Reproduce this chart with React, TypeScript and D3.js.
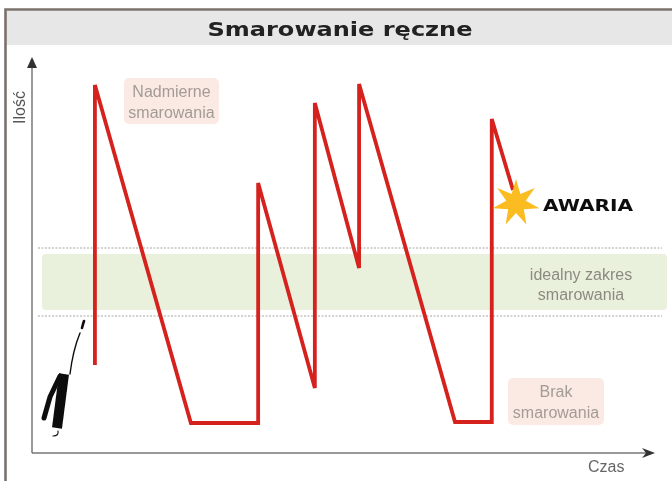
import * as d3 from 'd3';

const W = 672;
const H = 481;

// time and amount both as 0-100
const times = [10.1, 10.1, 25.5, 36.3, 36.3, 45.4, 45.4, 52.5, 52.5, 67.9, 73.8, 73.8, 77.2];
const levels = [22, 92, 7.5, 7.5, 67.5, 16.25, 87.5, 46.25, 92.25, 7.75, 7.75, 83.5, 65.75];
const idealBand = [35.75, 49.75];
const idealLimits = [34.25, 51.25];
const starRadii = [24, 10];

const x = d3.scaleLinear().domain([0, 100]).range([32, 655]);
const y = d3.scaleLinear().domain([0, 100]).range([453, 53]);

const line = d3
  .line<number>()
  .x((t) => x(t))
  .y((_, i) => y(levels[i]));

const star = d3
  .lineRadial<number>()
  .angle((_, i) => (i * Math.PI) / 7)
  .radius((r) => r)
  .curve(d3.curveLinearClosed);
const starPoints = d3.range(14).map((i) => starRadii[i % 2]);

const labelFont = "'Liberation Sans', sans-serif";

function Note({ left, top, w, h, lines }: { left: number; top: number; w: number; h: number; lines: string[] }) {
  return (
    <g>
      <rect x={left} y={top} width={w} height={h} rx={5} fill="#fbeae3" />
      {lines.map((t, i) => (
        <text
          key={t}
          x={left + w / 2}
          y={top + 19 + i * 21}
          textAnchor="middle"
          fontFamily={labelFont}
          fontSize={16}
          fill="#a39b96"
        >
          {t}
        </text>
      ))}
    </g>
  );
}

export default function App() {
  return (
    <svg width={W} height={H} viewBox={`0 0 ${W} ${H}`} style={{ position: 'absolute', left: 0, top: 0 }}>
      <defs>
        <filter id="soft" x="-5%" y="-5%" width="110%" height="110%">
          <feGaussianBlur stdDeviation="0.55" />
        </filter>
      </defs>
      <rect width={W} height={H} fill="#fff" />
      <g filter="url(#soft)">
        {/* frame and header */}
        <rect x={6} y={11} width={W - 6} height={34} fill="#e8e7e8" />
        <path d="M5.5,481V9.5H672" fill="none" stroke="#7b716b" strokeWidth={2.6} />
        <text
          x={340}
          y={36}
          textAnchor="middle"
          fontFamily="'DejaVu Sans', sans-serif"
          fontWeight="bold"
          fontSize={19}
          fill="#222"
          textLength={265}
          lengthAdjust="spacingAndGlyphs"
        >
          Smarowanie ręczne
        </text>

        {/* ideal range */}
        <rect
          x={42}
          y={y(idealBand[1])}
          width={625}
          height={y(idealBand[0]) - y(idealBand[1])}
          rx={4}
          fill="#e9f0dc"
        />
        {idealLimits.map((v) => (
          <line key={v} x1={38} x2={662} y1={y(v)} y2={y(v)} stroke="#c4c4c2" strokeWidth={1.4} strokeDasharray="2 1.5" />
        ))}

        {/* axes */}
        <line x1={x(0)} x2={x(0)} y1={y(0)} y2={62} stroke="#9a9a9a" strokeWidth={2} />
        <path d="M32,57l-5,11h10z" fill="#333" />
        <line x1={x(0)} x2={648} y1={y(0)} y2={y(0)} stroke="#777" strokeWidth={1.6} />
        <path d="M655,453l-13,-5l4,5l-4,5z" fill="#333" />
        <text transform="translate(25,124) rotate(-90)" fontFamily={labelFont} fontSize={16} fill="#555">
          Ilość
        </text>
        <text x={588} y={472} fontFamily={labelFont} fontSize={16} fill="#666">
          Czas
        </text>

        <Note left={124} top={78} w={95} h={46} lines={['Nadmierne', 'smarowania']} />
        <Note left={508} top={378} w={96} h={47} lines={['Brak', 'smarowania']} />
        <text textAnchor="middle" fontFamily={labelFont} fontSize={16} fill="#8d8a80">
          <tspan x={581} y={280}>idealny zakres</tspan>
          <tspan x={581} y={300}>smarowania</tspan>
        </text>

        {/* level over time */}
        <path d={line(times) ?? ''} fill="none" stroke="#d5201f" strokeWidth={3.8} strokeLinejoin="miter" />

        {/* failure */}
        <path d={star(starPoints) ?? ''} transform="translate(516,203)" fill="#fbbc21" />
        <text
          x={543}
          y={211}
          fontFamily="'DejaVu Sans', sans-serif"
          fontWeight="bold"
          fontSize={16}
          fill="#111"
          textLength={90}
          lengthAdjust="spacingAndGlyphs"
        >
          AWARIA
        </text>

        {/* grease gun */}
        <g fill="none" stroke="#111" strokeLinecap="round">
          <path d="M84,321Q83,324 82,328" strokeWidth={2.6} />
          <path d="M80,333Q73,350 70,374" strokeWidth={1.4} />
          <path d="M64,374L57,428" strokeWidth={10} strokeLinecap="butt" />
          <path d="M60,376L50,397L44,418" strokeWidth={5} />
          <path d="M58,431Q59,436 53,436" strokeWidth={1.2} />
        </g>
      </g>
    </svg>
  );
}
